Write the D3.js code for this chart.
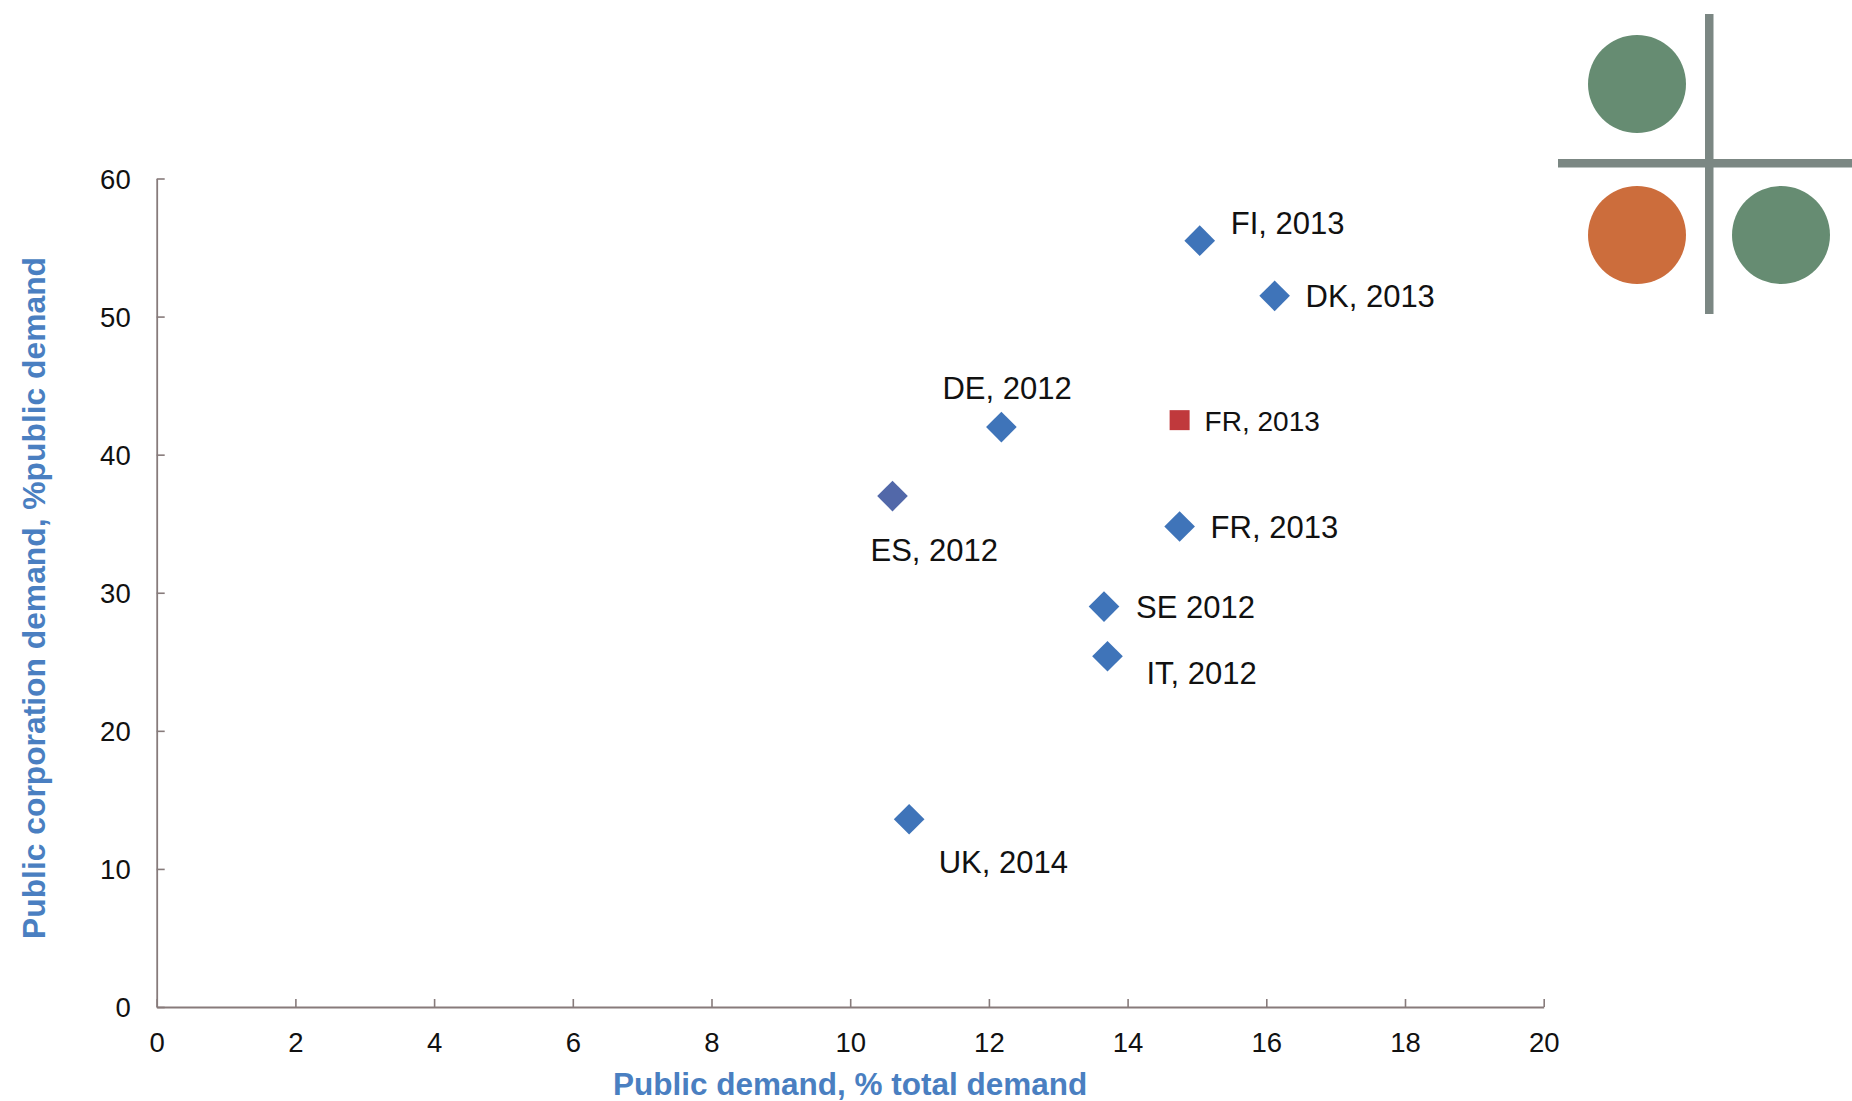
<!DOCTYPE html>
<html>
<head>
<meta charset="utf-8">
<script src="https://cdn.jsdelivr.net/npm/d3@7"></script>
<style>
  html, body { margin: 0; padding: 0; background: #ffffff; }
  svg { display: block; font-family: "Liberation Sans", Arial, sans-serif; }
</style>
</head>
<body>
<svg id="chart" width="1852" height="1101"></svg>
<script>
// ---- data ----
const pointLabels   = ["FI, 2013", "DK, 2013", "DE, 2012", "FR, 2013", "ES, 2012", "FR, 2013", "SE 2012", "IT, 2012", "UK, 2014"];
const publicDemand  = [15.04, 16.12, 12.18, 14.75, 10.61, 14.75, 13.66, 13.71, 10.85];   // % total demand
const corpShare     = [55.5, 51.5, 42.0, 42.5, 37.0, 34.8, 29.0, 25.4, 13.6];   // % public demand
const pointSeries   = ["main", "main", "main", "alt", "mix", "main", "main", "main", "main"];
const xTickValues   = [0, 2, 4, 6, 8, 10, 12, 14, 16, 18, 20];
const yTickValues   = [0, 10, 20, 30, 40, 50, 60];
const xTitle = "Public demand, % total demand";
const yTitle = "Public corporation demand, %public demand";

// ---- layout / style ----
const labelOffsets = [[31, -18], [31, 0], [-59, -39], [25, 1], [-22, 54], [31, 0], [32, 0], [39, 16.5], [29.5, 42.5]];
const seriesStyle = {
  main: { color: "#3f74b9", shape: "diamond", size: 470, font: 31 },
  mix:  { color: "#5268a9", shape: "diamond", size: 470, font: 31 },
  alt:  { color: "#c0393c", shape: "square",  size: 400, font: 28 }
};
const axisColor = "#877b7b";
const titleColor = "#4a7fc1";

const svg = d3.select("#chart");
const x = d3.scaleLinear().domain([0, 20]).range([156.7, 1543.7]);
const y = d3.scaleLinear().domain([0, 60]).range([1007, 178.5]);

// axes
const gx = svg.append("g").attr("transform", `translate(0,${y(0)})`)
  .call(d3.axisBottom(x).tickValues(xTickValues).tickFormat(d3.format("d"))
    .tickSizeInner(-8).tickSizeOuter(0).tickPadding(25));
const gy = svg.append("g").attr("transform", `translate(${x(0)},0)`)
  .call(d3.axisLeft(y).tickValues(yTickValues).tickFormat(d3.format("d"))
    .tickSizeInner(-8).tickSizeOuter(0).tickPadding(26));

[gx, gy].forEach(g => {
  g.select(".domain").attr("stroke", axisColor).attr("stroke-width", 1.8);
  g.selectAll(".tick line").attr("stroke", axisColor).attr("stroke-width", 1.6);
  g.selectAll(".tick text").attr("fill", "#111").attr("font-size", 27.5)
    .attr("font-family", "'Liberation Sans', Arial, sans-serif");
});
gy.selectAll(".tick text").attr("dy", "0.36em");

// axis titles
svg.append("text")
  .attr("x", (x.range()[0] + x.range()[1]) / 2).attr("y", 1095)
  .attr("text-anchor", "middle").attr("font-weight", "bold").attr("font-size", 31.5)
  .attr("fill", titleColor).text(xTitle);
svg.append("text")
  .attr("transform", `translate(45,598) rotate(-90)`)
  .attr("text-anchor", "middle").attr("font-weight", "bold").attr("font-size", 31.8)
  .attr("fill", titleColor).text(yTitle);

// points
const data = pointLabels.map((lab, i) => ({
  label: lab, xv: publicDemand[i], yv: corpShare[i], s: pointSeries[i], off: labelOffsets[i]
}));

const pts = svg.append("g");
pts.selectAll("path").data(data).join("path")
  .attr("d", d => d3.symbol().type(d3.symbolSquare).size(seriesStyle[d.s].size)())
  .attr("transform", d => `translate(${x(d.xv)},${y(d.yv)}) rotate(${seriesStyle[d.s].shape === "diamond" ? 45 : 0})`)
  .attr("fill", d => seriesStyle[d.s].color);

svg.append("g").selectAll("text").data(data).join("text")
  .attr("x", d => x(d.xv) + d.off[0])
  .attr("y", d => y(d.yv) + d.off[1])
  .attr("dy", "0.36em")
  .attr("font-size", d => seriesStyle[d.s].font)
  .attr("fill", "#111")
  .text(d => d.label);

// logo (decoration)
const logo = svg.append("g");
logo.append("rect").attr("x", 1705).attr("y", 14).attr("width", 8.5).attr("height", 300).attr("fill", "#7b8783");
logo.append("rect").attr("x", 1558).attr("y", 159).attr("width", 294).attr("height", 8.5).attr("fill", "#7b8783");
logo.append("circle").attr("cx", 1637).attr("cy", 84).attr("r", 49).attr("fill", "#668c72");
logo.append("circle").attr("cx", 1637).attr("cy", 235).attr("r", 49).attr("fill", "#cc6d3c");
logo.append("circle").attr("cx", 1781).attr("cy", 235).attr("r", 49).attr("fill", "#668c72");
</script>
</body>
</html>
